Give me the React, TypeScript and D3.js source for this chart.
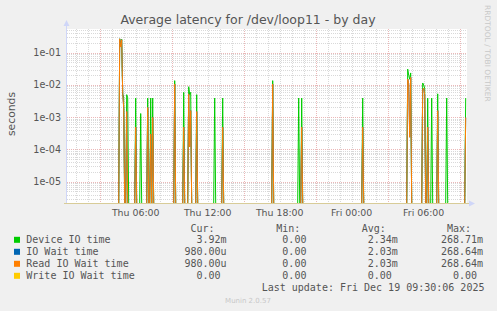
import React from "react";
import * as d3 from "d3";

const TITLE = "Average latency for /dev/loop11 - by day";
const Y_LABEL = "seconds";
const WATERMARK = "RRDTOOL / TOBI OETIKER";
const FOOTER = "Munin 2.0.57";
const LAST_UPDATE = "Last update: Fri Dec 19 09:30:06 2025";

const VIEW_START = "2025-12-18 00:16:30";
const VIEW_END = "2025-12-19 09:36:30";
const FIRST_SAMPLE = "2025-12-18 00:20:00";
const LAST_SAMPLE = "2025-12-19 09:30:00";

const yTickValues = [1e-1, 1e-2, 1e-3, 1e-4, 1e-5];
const yTickLabels = ["1e-01", "1e-02", "1e-03", "1e-04", "1e-05"];
const xTickLabels = ["Thu 06:00", "Thu 12:00", "Thu 18:00", "Fri 00:00", "Fri 06:00"];
const xTickTimes = ["2025-12-18 06:00:00", "2025-12-18 12:00:00", "2025-12-18 18:00:00", "2025-12-19 00:00:00", "2025-12-19 06:00:00"];

// non-zero samples (all other 5-min samples are 0)
const spikeTimes = [
  "2025-12-18 04:40:00", "2025-12-18 04:45:00", "2025-12-18 04:50:00", "2025-12-18 04:55:00",
  "2025-12-18 05:00:00", "2025-12-18 05:15:00", "2025-12-18 05:20:00", "2025-12-18 06:00:00",
  "2025-12-18 06:25:00", "2025-12-18 07:00:00", "2025-12-18 07:15:00", "2025-12-18 07:25:00",
  "2025-12-18 09:15:00", "2025-12-18 10:00:00", "2025-12-18 10:25:00", "2025-12-18 10:30:00",
  "2025-12-18 10:35:00", "2025-12-18 11:05:00", "2025-12-18 12:35:00", "2025-12-18 13:15:00",
  "2025-12-18 17:25:00", "2025-12-18 19:35:00", "2025-12-18 19:50:00", "2025-12-19 00:55:00",
  "2025-12-19 04:40:00", "2025-12-19 04:45:00", "2025-12-19 04:50:00", "2025-12-19 04:55:00",
  "2025-12-19 05:55:00", "2025-12-19 06:00:00", "2025-12-19 06:05:00", "2025-12-19 06:20:00",
  "2025-12-19 06:40:00", "2025-12-19 07:10:00", "2025-12-19 07:55:00", "2025-12-19 09:30:00",
];
const deviceIOTime = [
  0.2687, 0.17, 0.26, 5.2e-3,
  4.2e-3, 5.0e-3, 4.0e-3, 3.92e-3,
  1.3e-3, 3.92e-3, 3.92e-3, 3.92e-3,
  1.36e-2, 5.9e-3, 8.8e-3, 5.0e-3,
  5.9e-3, 5.0e-3, 3.92e-3, 3.92e-3,
  1.36e-2, 3.92e-3, 3.92e-3, 3.92e-3,
  0.031, 0.020, 0.015, 0.0236,
  0.0115, 0.010, 8.0e-3, 3.92e-3,
  3.92e-3, 5.3e-3, 3.92e-3, 3.92e-3,
];
const ioWaitTime = [
  0.2686, 0.15, 0.25, 5.4e-3,
  2.0e-3, 1.5e-3, 0, 4.9e-4,
  0, 2.0e-3, 3.0e-4, 9.8e-4,
  1.07e-2, 4.9e-4, 5.3e-3, 1.2e-4,
  1.6e-3, 1.5e-3, 0, 4.9e-4,
  1.07e-2, 0, 4.9e-4, 4.9e-4,
  0.0153, 0.011, 2.4e-4, 0.0172,
  7.0e-3, 8.0e-3, 5.0e-3, 4.9e-4,
  0, 1.6e-3, 0, 9.8e-4,
];
const readIOWaitTime = [
  0.2686, 0.15, 0.25, 5.4e-3,
  2.0e-3, 1.5e-3, 0, 4.9e-4,
  0, 2.0e-3, 3.0e-4, 9.8e-4,
  1.07e-2, 4.9e-4, 5.3e-3, 1.2e-4,
  1.6e-3, 1.5e-3, 0, 4.9e-4,
  1.07e-2, 0, 4.9e-4, 4.9e-4,
  0.0153, 0.011, 2.4e-4, 0.0172,
  7.0e-3, 8.0e-3, 5.0e-3, 4.9e-4,
  0, 1.6e-3, 0, 9.8e-4,
];
const writeIOWaitTime: number[] = spikeTimes.map(() => 0);

const seriesNames = ["Device IO time", "IO Wait time", "Read IO Wait time", "Write IO Wait time"];
const seriesColors = ["#00CC00", "#0066B3", "#FF8000", "#FFCC00"];
const curVals = ["  3.92m", "980.00u", "980.00u", "  0.00 "];
const minVals = ["  0.00 ", "  0.00 ", "  0.00 ", "  0.00 "];
const avgVals = ["  2.34m", "  2.03m", "  2.03m", "  0.00 "];
const maxVals = ["268.71m", "268.64m", "268.64m", "  0.00 "];

const parse = d3.timeParse("%Y-%m-%d %H:%M:%S");

export default function App() {
  const W = 497, H = 311;
  const L = 67, R = 467, T = 29, B = 204;
  const x = d3.scaleTime().domain([parse(VIEW_START)!, parse(VIEW_END)!]).range([L, R]);
  const y = d3.scaleLog().domain([1e-5, 1e-1]).range([181.7, 52.7]);
  const yc = (v: number) => (v > 0 ? Math.min(y(v), B - 0.5) : B - 0.5);

  const grid = d3.timeMinute.every(5)!.range(parse(FIRST_SAMPLE)!, d3.timeMinute.offset(parse(LAST_SAMPLE)!, 1));
  const times = spikeTimes.map((s) => +parse(s)!);
  const build = (vals: number[]) => {
    const m = new Map<number, number>();
    times.forEach((t, i) => m.set(t, vals[i]));
    return grid.map((d) => ({ t: d, v: m.get(+d) ?? 0 }));
  };
  const series = [deviceIOTime, ioWaitTime, readIOWaitTime, writeIOWaitTime].map(build);
  const line = d3.line<{ t: Date; v: number }>().x((d) => x(d.t)).y((d) => yc(d.v));

  const yMinor: number[] = [];
  for (let e = -6; e <= 0; e++) for (let k = 2; k <= 9; k++) {
    const v = k * Math.pow(10, e);
    const py = y(v);
    if (py >= T && py <= B) yMinor.push(py);
  }
  const yMajor = [1e-1, 1e-2, 1e-3, 1e-4, 1e-5, 1e-6].map((v) => y(v)).filter((p) => p >= T && p <= B);
  const hours = d3.timeHour.range(parse(VIEW_START)!, parse(VIEW_END)!);
  const xMinor = hours.filter((h) => h.getHours() % 6 !== 3).map((h) => x(h));
  const xMajor = hours.filter((h) => h.getHours() % 6 === 3).map((h) => x(h));

  const font = "DejaVu Sans, sans-serif";
  const mono = "DejaVu Sans Mono, monospace";
  const txt = "#555555";
  const colX = [184.5, 270.3, 355.7, 441];
  const minorC = "#D9D9D9";
  const majorC = "#EBB8B8";

  return (
    <svg width={W} height={H} style={{ position: "absolute", left: 0, top: 0, display: "block" }}>
      <rect width={W} height={H} fill="#F0F0F0" />
      <rect x={L} y={T} width={R - L} height={B - T} fill="#FFFFFF" />
      {yMinor.map((p, i) => (
        <line key={"ym" + i} x1={L} x2={R} y1={Math.round(p) + 0.5} y2={Math.round(p) + 0.5} stroke={minorC} strokeDasharray="1,1" />
      ))}
      {xMinor.map((p, i) => (
        <line key={"xm" + i} x1={Math.round(p) + 0.5} x2={Math.round(p) + 0.5} y1={T} y2={B} stroke={minorC} strokeDasharray="1,1" />
      ))}
      {yMajor.map((p, i) => (
        <line key={"yM" + i} x1={L} x2={R} y1={Math.round(p) + 0.5} y2={Math.round(p) + 0.5} stroke={majorC} strokeDasharray="1,1" />
      ))}
      {xMajor.map((p, i) => (
        <line key={"xM" + i} x1={Math.round(p) + 0.5} x2={Math.round(p) + 0.5} y1={T} y2={B} stroke={majorC} strokeDasharray="1,1" />
      ))}
      <defs>
        <clipPath id="plotclip">
          <rect x={L} y={T - 2} width={R - L + 1} height={B - T + 2} />
        </clipPath>
      </defs>
      <g clipPath="url(#plotclip)">
        {series.map((s, i) => (
          <path key={"s" + i} d={line(s) ?? ""} fill="none" stroke={seriesColors[i]} strokeWidth={1} />
        ))}
      </g>
      <line x1={L - 0.5} x2={L - 0.5} y1={T - 4} y2={B} stroke="#CFD6F8" />
      <line x1={L - 3} x2={R + 4} y1={B - 0.5} y2={B - 0.5} stroke="#D8CC98" />
      <path d={`M${L - 3.5},${T - 3} L${L - 0.5},${T - 9} L${L + 2.5},${T - 3} Z`} fill="#CFD6F8" />
      <path d={`M${R + 2},${B - 3.5} L${R + 8},${B - 0.5} L${R + 2},${B + 2.5} Z`} fill="#CFD6F8" />

      {yTickValues.map((v, i) => (
        <text key={"yt" + i} x={61} y={y(v) + 3.5} textAnchor="end" fontFamily={font} fontSize={9.6} fill={txt}>
          {yTickLabels[i]}
        </text>
      ))}
      {xTickTimes.map((s, i) => (
        <text key={"xt" + i} x={x(parse(s)!)} y={215.7} textAnchor="middle" fontFamily={font} fontSize={9.4} fill={txt}>
          {xTickLabels[i]}
        </text>
      ))}
      <text x={248} y={24} textAnchor="middle" fontFamily={font} fontSize={12.5} fill={txt}>{TITLE}</text>
      <text transform="translate(15,114) rotate(-90)" textAnchor="middle" fontFamily={font} fontSize={10.8} fill={txt}>{Y_LABEL}</text>
      <text transform="translate(484.5,5) rotate(90)" textAnchor="start" fontFamily={font} fontSize={7.5} fill="#C8C8C8">{WATERMARK}</text>

      {["Cur:", "Min:", "Avg:", "Max:"].map((h, i) => (
        <text key={"h" + i} x={colX[i] + 6} y={231.5} fontFamily={mono} fontSize={10} fill={txt}>{h}</text>
      ))}
      {seriesNames.map((n, i) => {
        const by = 243.3 + i * 12;
        return (
          <g key={"lg" + i}>
            <rect x={14} y={by - 6.5} width={6} height={6} fill={seriesColors[i]} />
            <text x={26.3} y={by} fontFamily={mono} fontSize={10} fill={txt}>{n}</text>
            {[curVals[i], minVals[i], avgVals[i], maxVals[i]].map((v, j) => (
              <text key={j} x={colX[j]} y={by} fontFamily={mono} fontSize={10} fill={txt} style={{ whiteSpace: "pre" }}>{v}</text>
            ))}
          </g>
        );
      })}
      <text x={261.7} y={291} fontFamily={mono} fontSize={10} fill={txt}>{LAST_UPDATE}</text>
      <text x={248} y={303} textAnchor="middle" fontFamily={font} fontSize={7} fill="#C8C8C8">{FOOTER}</text>
    </svg>
  );
}
